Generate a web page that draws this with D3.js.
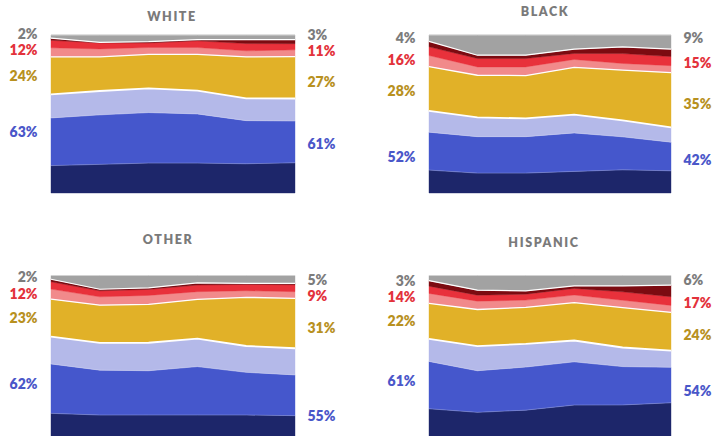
<!DOCTYPE html>
<html>
<head>
<meta charset="utf-8">
<script src="https://cdn.jsdelivr.net/npm/d3@7"></script>
<style>
  html, body { margin: 0; padding: 0; background: #ffffff; }
  svg { display: block; font-family: Lato, "Open Sans", "DejaVu Sans", sans-serif; }
</style>
</head>
<body>
<svg id="chart" width="717" height="436"></svg>
<script>
// Six survey waves, left to right
const waves = [0, 1, 2, 3, 4, 5];

// Layers, stacked bottom to top
const layerKeys = ["navy", "blue", "lavender", "gold", "pink", "red", "darkRed", "gray"];

// Panel titles
const groupNames = ["WHITE", "BLACK", "OTHER", "HISPANIC"];

// Shares (%) per layer, one row per layer, one column per wave
const whiteShares = [
  [17.5, 18.1, 18.9, 18.9, 18.5, 19.5],
  [30.5, 31.3, 31.9, 31.1, 27.3, 27.0],
  [15.0, 15.1, 15.3, 14.7, 14.1, 14.5],
  [24.0, 21.6, 21.4, 22.9, 26.3, 27.0],
  [5.8, 5.0, 4.4, 4.4, 3.8, 4.4],
  [4.8, 3.8, 2.9, 4.2, 4.6, 4.0],
  [1.4, 0.4, 0.8, 0.8, 2.5, 2.6],
  [2.0, 4.6, 4.2, 2.9, 2.9, 3.0]
];
const blackShares = [
  [14.5, 12.6, 12.6, 13.7, 14.7, 14.2],
  [24.0, 23.1, 23.1, 24.4, 21.0, 18.3],
  [13.5, 12.2, 11.6, 11.6, 10.5, 9.5],
  [28.0, 26.7, 27.1, 30.0, 31.9, 35.0],
  [7.0, 5.3, 5.5, 5.0, 4.2, 4.4],
  [5.5, 5.3, 5.3, 3.8, 6.3, 5.8],
  [3.5, 2.1, 2.1, 2.7, 4.2, 4.8],
  [4.0, 12.8, 12.8, 9.0, 7.6, 9.0]
];
const otherShares = [
  [14.6, 13.6, 13.6, 13.6, 13.6, 13.2],
  [30.5, 27.8, 27.4, 29.9, 26.4, 25.2],
  [16.9, 16.9, 17.3, 17.3, 16.3, 16.5],
  [23.1, 23.3, 23.7, 24.3, 30.1, 30.9],
  [6.2, 5.2, 5.6, 4.7, 4.1, 4.1],
  [4.5, 3.7, 3.7, 4.1, 3.9, 4.3],
  [1.6, 1.0, 1.0, 1.4, 0.6, 0.8],
  [2.3, 8.5, 7.6, 4.5, 4.9, 4.9]
];
const hispanicShares = [
  [17.5, 15.3, 16.7, 19.8, 19.8, 21.4],
  [29.3, 25.8, 26.8, 26.8, 23.7, 22.2],
  [14.0, 15.3, 14.4, 13.2, 11.8, 10.4],
  [22.0, 22.7, 22.7, 23.5, 24.7, 24.0],
  [6.1, 5.2, 4.5, 4.7, 4.5, 4.3],
  [4.5, 3.7, 3.7, 4.1, 5.2, 5.4],
  [3.4, 3.1, 2.1, 1.6, 3.7, 7.3],
  [3.2, 9.1, 9.5, 6.4, 6.4, 6.0]
];

// Layer groups that receive a summed percentage label at each end
const labelGroups = [
  { name: "gray",  keys: ["gray"] },
  { name: "reds",  keys: ["pink", "red", "darkRed"] },
  { name: "gold",  keys: ["gold"] },
  { name: "blues", keys: ["navy", "blue", "lavender"] }
];

// ---- styling and layout ----
const fillColor = {
  navy: "#1d266a", blue: "#4557cc", lavender: "#b4b9e9", gold: "#e1b128",
  pink: "#f18a8b", red: "#e8313b", darkRed: "#7c0b11", gray: "#a2a2a2"
};
const labelColor = { gray: "#7c7c7c", reds: "#e3323b", gold: "#b8911f", blues: "#4a57c9" };

// plot boxes, title anchors and small vertical label nudges (gray, reds, gold, blues)
const panels = [
  { shares: whiteShares,    x0: 51,  x1: 295, y0: 35,    y1: 193, tx: 172, ty: 20.6,
    nudgeL: [0, 0, 0, -12], nudgeR: [0, 0, 4, -2] },
  { shares: blackShares,    x0: 429, x1: 671, y0: 35,    y1: 193, tx: 545, ty: 15.8,
    nudgeL: [0, 6, 2, 5],   nudgeR: [-4, 2, 4, 0] },
  { shares: otherShares,    x0: 51,  x1: 295, y0: 275.5, y1: 437, tx: 168, ty: 244.3,
    nudgeL: [2, 3, 0, -3],  nudgeR: [3, 3, 5, 23] },
  { shares: hispanicShares, x0: 429, x1: 671, y0: 275.5, y1: 437, tx: 544, ty: 246.6,
    nudgeL: [4, 4, 0, -7],  nudgeR: [0, 4, 3, -3] }
];

const svg = d3.select("#chart");

const stack = d3.stack().keys(layerKeys).offset(d3.stackOffsetExpand);

panels.forEach((p, pi) => {
  const rows = waves.map((w, i) => {
    const r = { wave: w };
    layerKeys.forEach((k, li) => { r[k] = p.shares[li][i]; });
    return r;
  });
  const series = stack(rows);
  const byKey = {};
  series.forEach(s => { byKey[s.key] = s; });

  const x = d3.scaleLinear().domain(d3.extent(waves)).range([p.x0, p.x1]);
  const y = d3.scaleLinear().domain([0, 1]).range([p.y1, p.y0]);

  const g = svg.append("g");

  const area = d3.area()
    .x(d => x(d.data.wave))
    .y0(d => y(d[0]))
    .y1(d => y(d[1]));

  g.selectAll("path.layer")
    .data(series)
    .join("path")
    .attr("class", "layer")
    .attr("fill", d => fillColor[d.key])
    .attr("stroke", d => fillColor[d.key])
    .attr("stroke-width", 0.4)
    .attr("d", area);

  const topLine = d3.line().x(d => x(d.data.wave)).y(d => y(d[1]));
  // separators along layer tops
  const seps = [
    { key: "navy", color: "#ffffff", width: 0.6, opacity: 0.35 },
    { key: "blue", color: "#ffffff", width: 0.6, opacity: 0.35 },
    { key: "lavender", color: "#ffffff", width: 1.8, opacity: 1 },
    { key: "gold", color: "#ffffff", width: 1.3, opacity: 1 },
    { key: "darkRed", color: "#ffffff", width: 1.2, opacity: 1 },
    { key: "gray", color: "#d2d2d2", width: 1, opacity: 1 }
  ];
  seps.forEach(s => {
    g.append("path")
      .attr("fill", "none")
      .attr("stroke", s.color)
      .attr("stroke-width", s.width)
      .attr("stroke-opacity", s.opacity)
      .attr("d", topLine(byKey[s.key]));
  });

  // title
  svg.append("text")
    .attr("x", p.tx)
    .attr("y", p.ty)
    .attr("text-anchor", "middle")
    .attr("fill", "#7a7a7a")
    .attr("font-size", 12.5)
    .attr("font-weight", 800)
    .attr("letter-spacing", 1.6)
    .text(groupNames[pi]);

  // end labels: summed group share, placed at group middle with spacing
  const ends = [
    { idx: 0, anchor: "end", lx: p.x0 - 13.5, nudge: p.nudgeL },
    { idx: waves.length - 1, anchor: "start", lx: p.x1 + 12.5, nudge: p.nudgeR }
  ];
  ends.forEach(e => {
    const labels = labelGroups.map(grp => {
      const sum = grp.keys.reduce((a, k) => a + p.shares[layerKeys.indexOf(k)][e.idx], 0);
      const lo = d3.min(grp.keys, k => byKey[k][e.idx][0]);
      const hi = d3.max(grp.keys, k => byKey[k][e.idx][1]);
      return { name: grp.name, value: Math.round(Math.round(sum * 10) / 10), cy: y((lo + hi) / 2) };
    });
    // relax overlapping labels
    const gap = 16;
    for (let it = 0; it < 30; it++) {
      for (let i = 0; i < labels.length - 1; i++) {
        const a = labels[i], b = labels[i + 1];
        const d = b.cy - a.cy;
        if (d < gap) {
          const push = (gap - d) / 2;
          a.cy -= push; b.cy += push;
        }
      }
    }
    labels.forEach((l, i) => { l.cy += e.nudge[i]; });
    svg.append("g").selectAll("text")
      .data(labels)
      .join("text")
      .attr("x", e.lx)
      .attr("y", d => d.cy)
      .attr("dy", "0.36em")
      .attr("text-anchor", e.anchor)
      .attr("fill", d => labelColor[d.name])
      .attr("font-size", 14)
      .attr("font-weight", 800)
      .text(d => d.value + "%");
  });
});
</script>
</body>
</html>
